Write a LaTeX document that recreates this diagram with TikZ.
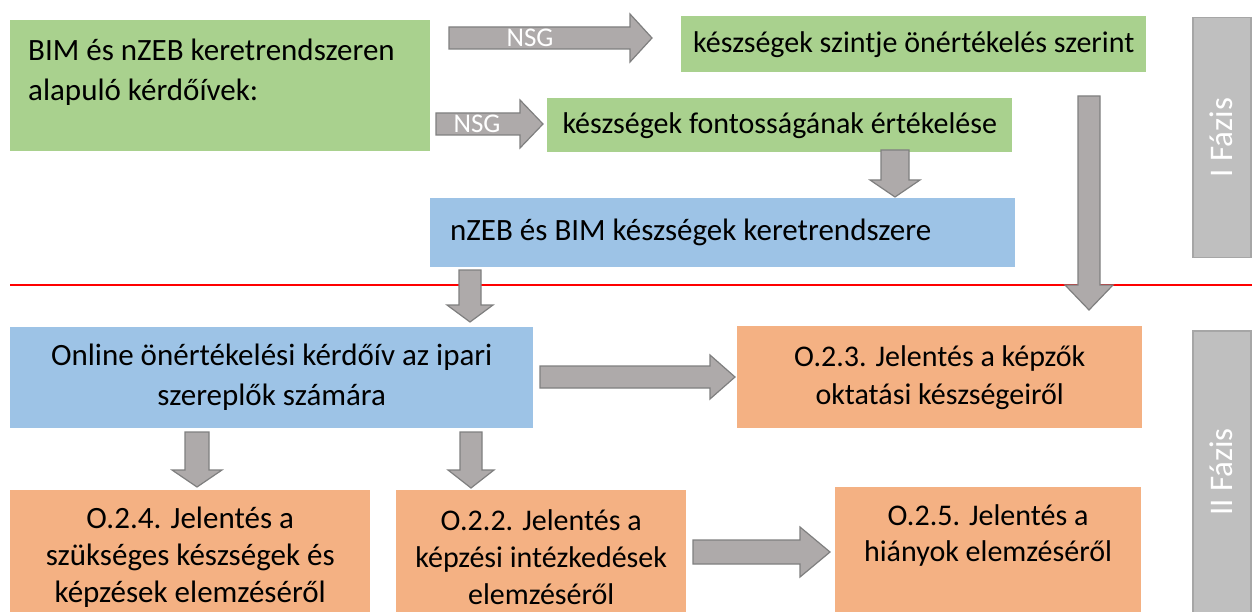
\documentclass[tikz,border=0pt]{standalone}
\usepackage{fontspec}
\setmainfont{Carlito}
\usetikzlibrary{calc}
\definecolor{gfill}{HTML}{A9D18E}
\definecolor{bfill}{HTML}{9DC3E6}
\definecolor{ofill}{HTML}{F4B183}
\definecolor{afill}{HTML}{AEAAAA}
\definecolor{aline}{HTML}{7F7F7F}
\definecolor{pfill}{HTML}{BFBFBF}
\definecolor{pline}{HTML}{A6A6A6}
\newcommand\blockarr[5]{%
  \coordinate (hb) at ($(#2)!#5pt!(#1)$);
  \draw[barrow] ($(#1)!#3pt!90:(#2)$) -- ($(hb)!#3pt!-90:(#1)$) -- ($(hb)!#4pt!-90:(#1)$) -- (#2)
    -- ($(hb)!#4pt!90:(#1)$) -- ($(hb)!#3pt!90:(#1)$) -- ($(#1)!#3pt!-90:(#2)$) -- cycle;}
\begin{document}
\begin{tikzpicture}[x=1pt,y=-1pt,
  box/.style={draw=none, inner sep=0pt, anchor=north west, font=\fontsize{30}{38}\selectfont, align=center},
  txt/.style={inner sep=0pt, font=\fontsize{31}{40}\selectfont},
  barrow/.style={fill=afill, draw=aline, line width=1.2pt, line join=miter},
  nsg/.style={inner sep=0pt, text=white, font=\fontsize{27}{30}\selectfont},
  phase/.style={fill=pfill, draw=pline, line width=1.5pt, inner sep=0pt, anchor=north west},
  ptxt/.style={text=white, rotate=90, inner sep=0pt, font=\fontsize{33}{36}\selectfont}]
\useasboundingbox (0,0) rectangle (1252,612);
\clip (0,0) rectangle (1252,612);
% boxes
\node[box, fill=gfill, minimum width=420, minimum height=131] (A) at (10,20) {};
\node[txt, anchor=west, align=left, font=\fontsize{31}{40}\selectfont] (At) at (28,72) {BIM és nZEB keretrendszeren\\alapuló kérdőívek:};
\node[box, fill=gfill, minimum width=465, minimum height=56] (B) at (681,16) {készségek szintje önértékelés szerint};
\node[box, fill=gfill, minimum width=465, minimum height=54] (C) at (547,98) {készségek fontosságának értékelése};
\node[box, fill=bfill, minimum width=585, minimum height=69] (D) at (430,198) {};
\node[txt, anchor=west] (Dt) at (450,232) {nZEB és BIM készségek keretrendszere};
\node[box, fill=bfill, minimum width=523, minimum height=101, font=\fontsize{31}{40}\selectfont] (E) at (10,327) {Online önértékelési kérdőív az ipari\\szereplők számára};
\node[box, fill=ofill, minimum width=405, minimum height=102] (F) at (737,326) {O.2.3. Jelentés a képzők\\oktatási készségeiről};
\node[box, fill=ofill, minimum width=360, minimum height=134, font=\fontsize{31}{37}\selectfont] (G) at (10,490) {O.2.4. Jelentés a\\szükséges készségek és\\képzések elemzéséről};
\node[box, fill=ofill, minimum width=290, minimum height=134, font=\fontsize{30}{37}\selectfont] (H) at (396,490) {O.2.2. Jelentés a\\képzési intézkedések\\elemzéséről};
\node[box, fill=ofill, minimum width=306, minimum height=140] (I) at (835,487) {};
\node[txt, align=center, font=\fontsize{30}{36}\selectfont] (It) at (988,535) {O.2.5. Jelentés a\\hiányok elemzéséről};
% phase boxes
\node[phase, minimum width=58, minimum height=240] (P1) at (1192,17) {};
\node[ptxt] (P1t) at (P1.center) {I Fázis};
\node[phase, minimum width=58, minimum height=300] (P2) at (1192,330) {};
\node[ptxt] (P2t) at (1221,472) {II Fázis};
% red separator
\coordinate (rl) at (10,285);
\coordinate (rr) at (1252,285);
\draw[red, line width=2pt] (rl) -- (rr);
% block arrows
\coordinate (a1s) at (449,38);  \coordinate (a1e) at (652,38);
\coordinate (a2s) at (436,124); \coordinate (a2e) at (543,124);
\coordinate (a3s) at (895,150); \coordinate (a3e) at (895,197);
\coordinate (a4s) at (1089,96); \coordinate (a4e) at (1089,310);
\coordinate (a5s) at (470,270); \coordinate (a5e) at (470,322);
\coordinate (a6s) at (540,377); \coordinate (a6e) at (735,377);
\coordinate (a7s) at (197,432); \coordinate (a7e) at (197,487);
\coordinate (a8s) at (471,432); \coordinate (a8e) at (471,488);
\coordinate (a9s) at (693,552); \coordinate (a9e) at (830,552);
\blockarr{a1s}{a1e}{11}{24}{22}
\blockarr{a2s}{a2e}{11}{24}{23}
\blockarr{a3s}{a3e}{14}{25}{17}
\blockarr{a4s}{a4e}{11}{24}{25}
\blockarr{a5s}{a5e}{11}{23}{17}
\blockarr{a6s}{a6e}{11}{22}{25}
\blockarr{a7s}{a7e}{12}{25}{17}
\blockarr{a8s}{a8e}{11}{23}{18}
\blockarr{a9s}{a9e}{12}{25}{30}
\node[nsg] (n1) at (530,38) {NSG};
\node[nsg] (n2) at (477,124) {NSG};
\end{tikzpicture}
\end{document}
